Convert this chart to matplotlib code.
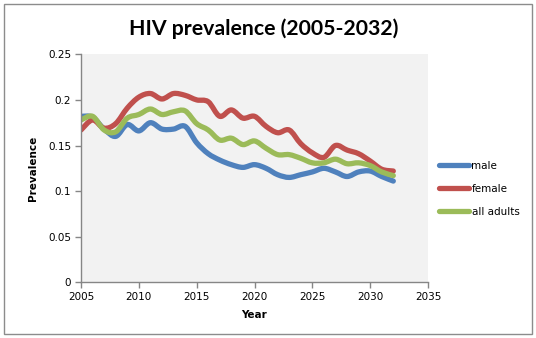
import matplotlib
matplotlib.use("Agg")
import matplotlib.pyplot as plt
from matplotlib.path import Path
from matplotlib.patches import PathPatch, Rectangle
from matplotlib.lines import Line2D
import numpy as np

years = list(range(2005, 2033))
male = [0.182, 0.181, 0.168, 0.160, 0.173, 0.166, 0.175, 0.168, 0.168, 0.171,
        0.153, 0.141, 0.134, 0.129, 0.126, 0.129, 0.125, 0.118, 0.115, 0.118,
        0.121, 0.125, 0.121, 0.116, 0.121, 0.122, 0.116, 0.111]
female = [0.167, 0.178, 0.169, 0.174, 0.191, 0.203, 0.207, 0.201, 0.207, 0.205,
          0.200, 0.198, 0.182, 0.189, 0.180, 0.182, 0.171, 0.164, 0.167, 0.152,
          0.142, 0.137, 0.150, 0.145, 0.141, 0.133, 0.124, 0.122]
all_adults = [0.178, 0.182, 0.167, 0.165, 0.180, 0.184, 0.190, 0.184, 0.187, 0.188,
              0.174, 0.167, 0.156, 0.158, 0.151, 0.155, 0.147, 0.140, 0.140, 0.136,
              0.131, 0.131, 0.135, 0.130, 0.131, 0.128, 0.121, 0.117]

series = [("male", male, "#4F81BD"),
          ("female", female, "#C0504D"),
          ("all adults", all_adults, "#9BBB59")]

x_ticks = [2005, 2010, 2015, 2020, 2025, 2030, 2035]
y_ticks = [0, 0.05, 0.1, 0.15, 0.2, 0.25]
y_tick_labels = ["0", "0.05", "0.1", "0.15", "0.2", "0.25"]

LW = 3.8
FONT = "DejaVu Sans"


def smooth_path(xs, ys):
    """Cubic Bezier path through the points (spreadsheet-style smoothed line)."""
    pts = np.column_stack([xs, ys]).astype(float)
    n = len(pts)
    verts = [pts[0]]
    codes = [Path.MOVETO]
    for i in range(n - 1):
        p0 = pts[i - 1] if i > 0 else pts[i]
        p1 = pts[i]
        p2 = pts[i + 1]
        p3 = pts[i + 2] if i + 2 < n else pts[i + 1]
        c1 = p1 + (p2 - p0) / 6.0
        c2 = p2 - (p3 - p1) / 6.0
        verts += [c1, c2, p2]
        codes += [Path.CURVE4] * 3
    return Path(verts, codes)


fig = plt.figure(figsize=(5.36, 3.38), dpi=100)
fig.patch.set_facecolor("white")

# outer chart frame
fig.patches.append(Rectangle((3.5 / 536, 1 - 334 / 338), 528 / 536, 330.5 / 338,
                             transform=fig.transFigure, fill=False,
                             edgecolor="#8C8C8C", linewidth=1.0))

ax = fig.add_axes([81 / 536, 1 - 282.3 / 338, (428 - 81) / 536, (282.3 - 54.3) / 338])
ax.set_facecolor("#F2F2F2")

for label, vals, color in series:
    patch = PathPatch(smooth_path(years, vals), facecolor="none", edgecolor=color,
                      linewidth=LW, capstyle="round", joinstyle="round")
    ax.add_patch(patch)

ax.set_xlim(2005, 2035)
ax.set_ylim(0, 0.25)
ax.set_xticks(x_ticks)
ax.set_xticklabels([str(t) for t in x_ticks], fontsize=7.5, family=FONT)
ax.set_yticks(y_ticks)
ax.set_yticklabels(y_tick_labels, fontsize=7.5, family=FONT)

for side in ("top", "right"):
    ax.spines[side].set_visible(False)
for side in ("left", "bottom"):
    ax.spines[side].set_color("#868686")
    ax.spines[side].set_linewidth(1.0)
ax.tick_params(axis="both", direction="out", length=4, width=1.0, color="#868686",
               labelcolor="black", pad=3)

ax.set_xlabel("Year", fontsize=7.5, fontweight="bold", family=FONT, labelpad=6)
ax.set_ylabel("Prevalence", fontsize=7.5, fontweight="bold", family=FONT, labelpad=7)

fig.text(264 / 536, 1 - 29 / 338, "HIV prevalence (2005-2032)", ha="center", va="center",
         fontsize=15.3, fontweight="bold", family="Lato")

handles = [Line2D([0], [0], color=c, lw=LW, solid_capstyle="round") for _, _, c in series]
leg = fig.legend(handles, [s[0] for s in series], loc="center left",
                 bbox_to_anchor=(434 / 536, 1 - 189 / 338), frameon=False,
                 prop={"family": FONT, "size": 7.5}, handlelength=2.9,
                 handletextpad=0.2, labelspacing=1.25, borderpad=0.0)

fig.savefig("out.png", dpi=100)
